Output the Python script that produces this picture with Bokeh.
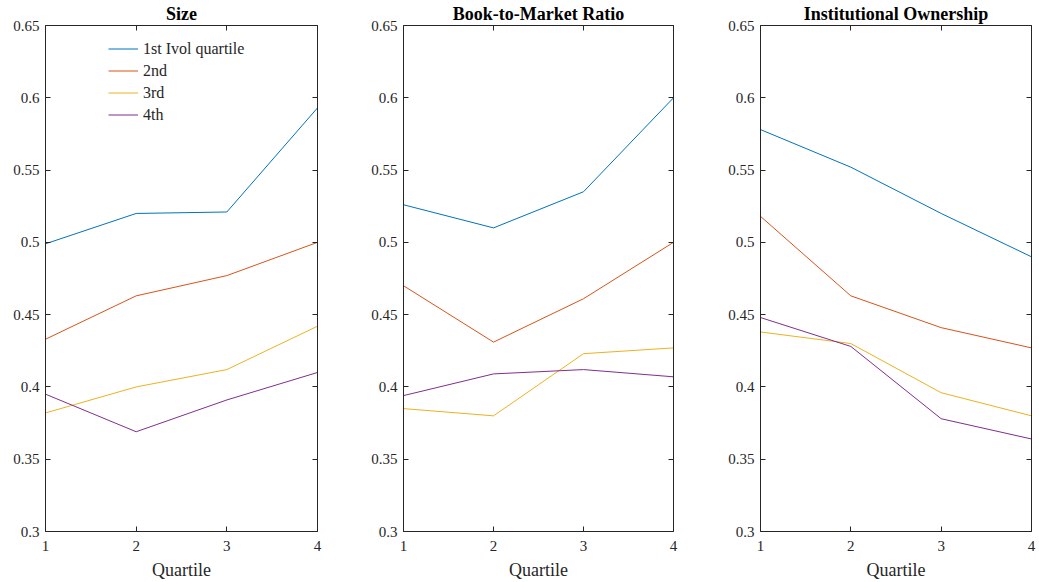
from bokeh.plotting import figure
from bokeh.layouts import row
from bokeh.models import Range1d, LinearAxis, FixedTicker, Legend, LegendItem
from bokeh.embed import file_html
from bokeh.resources import INLINE

quartiles = [1, 2, 3, 4]
y_ticks = [0.3, 0.35, 0.4, 0.45, 0.5, 0.55, 0.6, 0.65]
y_tick_labels = ["0.3", "0.35", "0.4", "0.45", "0.5", "0.55", "0.6", "0.65"]
x_tick_labels = ["1", "2", "3", "4"]
series_names = ["1st Ivol quartile", "2nd", "3rd", "4th"]
titles = ["Size", "Book-to-Market Ratio", "Institutional Ownership"]

size_1st = [0.499, 0.520, 0.521, 0.593]
size_2nd = [0.433, 0.463, 0.477, 0.500]
size_3rd = [0.382, 0.400, 0.412, 0.442]
size_4th = [0.395, 0.369, 0.391, 0.410]

bm_1st = [0.526, 0.510, 0.535, 0.600]
bm_2nd = [0.470, 0.431, 0.461, 0.500]
bm_3rd = [0.385, 0.380, 0.423, 0.427]
bm_4th = [0.394, 0.409, 0.412, 0.407]

io_1st = [0.578, 0.552, 0.520, 0.490]
io_2nd = [0.518, 0.463, 0.441, 0.427]
io_3rd = [0.438, 0.430, 0.396, 0.380]
io_4th = [0.448, 0.428, 0.378, 0.364]

colors = ["#0072BD", "#D95319", "#EDB120", "#7E2F8E"]
AX = "#262626"
FONT = "Liberation Serif"

panels = [
    (titles[0], [size_1st, size_2nd, size_3rd, size_4th]),
    (titles[1], [bm_1st, bm_2nd, bm_3rd, bm_4th]),
    (titles[2], [io_1st, io_2nd, io_3rd, io_4th]),
]
# (width, min_border_left, min_border_right)
geo = [(359, 45, 42), (357, 44, 43), (323, 44, 8)]

def style_axis(ax, labels=True):
    ax.axis_line_color = AX
    ax.axis_line_width = 1
    ax.major_tick_line_color = AX
    ax.major_tick_in = 5
    ax.major_tick_out = 0
    ax.minor_tick_line_color = None
    ax.major_label_text_font = FONT
    ax.major_label_text_font_size = "15px"
    ax.major_label_text_color = AX
    if not labels:
        ax.major_label_text_alpha = 0
        ax.major_label_text_font_size = "1px"
        ax.major_label_standoff = 0

figs = []
for i, (title, series) in enumerate(panels):
    w, bl, br = geo[i]
    p = figure(width=w, height=582, output_backend="svg", toolbar_location=None,
               x_range=Range1d(1, 4), y_range=Range1d(0.3, 0.65),
               min_border_left=bl, min_border_right=br, min_border_top=0,
               min_border_bottom=0, x_axis_location=None, y_axis_location=None)
    p.title.text = title
    p.title.align = "center"
    p.title.text_font = FONT
    p.title.text_font_style = "bold"
    p.title.text_font_size = "18px"
    p.title.text_color = "black"
    p.title.standoff = 3
    p.title.offset = 0
    p.grid.visible = False
    p.outline_line_color = None
    p.background_fill_color = "white"
    p.border_fill_color = "white"

    xt = FixedTicker(ticks=quartiles)
    yt = FixedTicker(ticks=y_ticks)
    bottom = LinearAxis(ticker=xt, axis_label="Quartile")
    bottom.major_label_overrides = {q: s for q, s in zip(quartiles, x_tick_labels)}
    style_axis(bottom)
    bottom.major_label_standoff = 9
    bottom.axis_label_text_font = FONT
    bottom.axis_label_text_font_size = "18px"
    bottom.axis_label_text_font_style = "normal"
    bottom.axis_label_text_color = AX
    bottom.axis_label_standoff = 6
    left = LinearAxis(ticker=yt)
    left.major_label_overrides = {v: s for v, s in zip(y_ticks, y_tick_labels)}
    style_axis(left)
    left.major_label_standoff = 6
    top = LinearAxis(ticker=xt)
    style_axis(top, labels=False)
    right = LinearAxis(ticker=yt)
    style_axis(right, labels=False)
    p.add_layout(bottom, "below")
    p.add_layout(left, "left")
    p.add_layout(top, "above")
    p.add_layout(right, "right")

    rends = []
    for ys, c in zip(series, colors):
        r = p.line(quartiles, ys, line_color=c, line_width=1)
        rends.append(r)
    if i == 0:
        legend = Legend(items=[LegendItem(label=n, renderers=[r]) for n, r in zip(series_names, rends)],
                        location=(63, 406))
        legend.label_text_font = FONT
        legend.label_text_font_size = "16px"
        legend.label_text_color = AX
        legend.glyph_width = 30
        legend.glyph_height = 21
        legend.label_height = 21
        legend.spacing = 1
        legend.padding = 0
        legend.margin = 0
        legend.label_standoff = 5
        legend.background_fill_alpha = 0
        legend.border_line_alpha = 0
        p.add_layout(legend)
    figs.append(p)

layout = row(*figs)
open("out.html", "w").write(file_html(layout, INLINE))
